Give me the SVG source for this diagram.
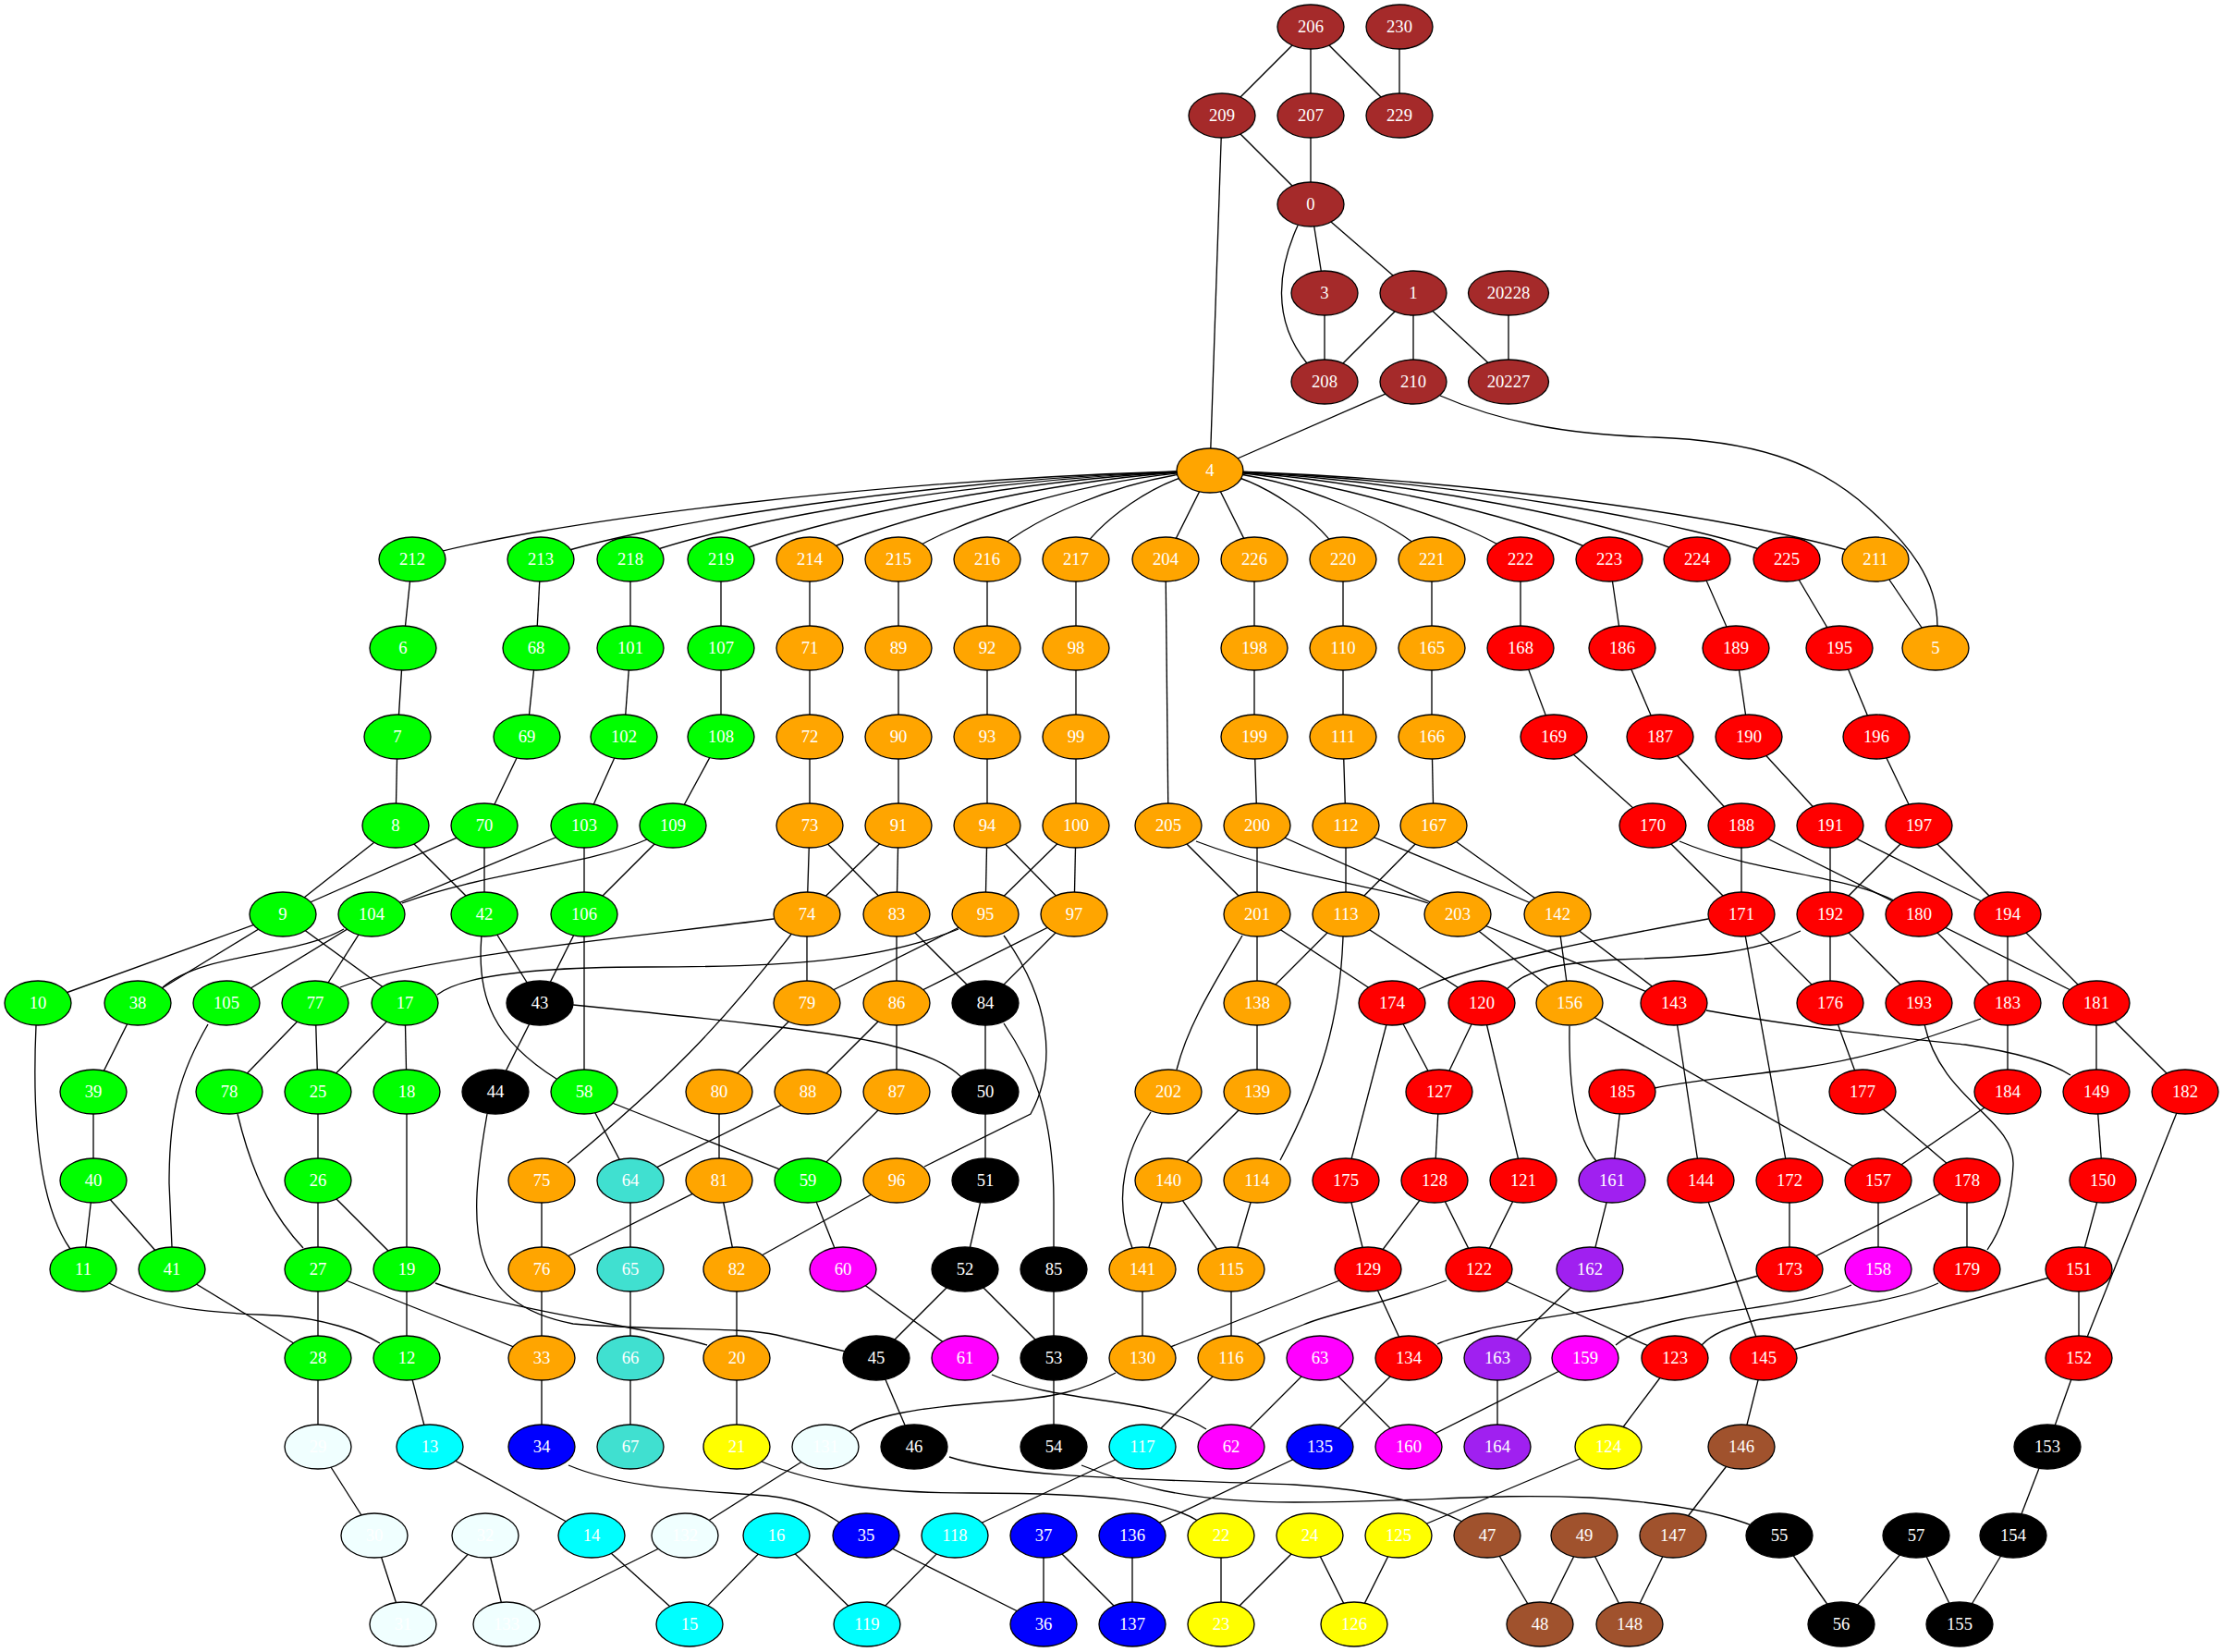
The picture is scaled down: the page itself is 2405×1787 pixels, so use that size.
<svg xmlns="http://www.w3.org/2000/svg" width="2405" height="1787" viewBox="0 0 2405 1787">
<style>
ellipse{stroke:#000;stroke-width:1.33}
text{font-family:"Liberation Serif","Times New Roman",serif;font-size:18.67px;fill:#fff;text-anchor:middle}
#edges path{stroke:#000;stroke-width:1.33;fill:none}
.br{fill:#a52a2a}.or{fill:#ffa500}.gr{fill:#00ff00}.rd{fill:#ff0000}.bk{fill:#000}.cy{fill:#00ffff}.bl{fill:#0000ff}.ye{fill:#ffff00}.mg{fill:#ff00ff}.pu{fill:#a020f0}.tq{fill:#40e0d0}.si{fill:#a0522d}.az{fill:#f0ffff}
</style>
<rect width="2405" height="1787" fill="#fff"/>
<g id="edges">
<path d="M1418,29 L1322,125"/><path d="M1418,29 L1418,125"/><path d="M1418,29 L1514,125"/><path d="M1514,29 L1514,125"/>
<path d="M1322,125 L1418,221"/><path d="M1418,125 L1418,221"/><path d="M1418,221 L1433,317"/><path d="M1418,221 L1529,317"/>
<path d="M1404,244 C1383,290 1375,345 1414,393"/>
<path d="M1433,317 L1433,413"/><path d="M1529,317 L1433,413"/><path d="M1529,317 L1529,413"/><path d="M1529,317 L1632,413"/><path d="M1632,317 L1632,413"/>
<path d="M1529,413 L1309,509"/><path d="M1322,125 L1309,509"/>
<path d="M1558,428 C1620,455 1690,470 1790,473 C1900,477 1960,500 2010,540 C2070,590 2096,630 2096,677"/>
<path d="M1309,509 C964,517 576,565 446,605"/>
<path d="M1309,509 C1019,517 694,565 585,605"/>
<path d="M1309,509 C1058,517 776,565 682,605"/>
<path d="M1309,509 C1097,517 859,565 780,605"/>
<path d="M1309,509 C1136,517 941,565 876,605"/>
<path d="M1309,509 C1174,517 1023,565 972,605"/>
<path d="M1309,509 C1213,517 1104,565 1068,605"/>
<path d="M1309,509 C1251,517 1186,565 1164,605"/>
<path d="M1309,509 L1261,605"/><path d="M1309,509 L1357,605"/>
<path d="M1309,509 C1367,517 1431,565 1453,605"/>
<path d="M1309,509 C1405,517 1513,565 1549,605"/>
<path d="M1309,509 C1443,517 1595,565 1645,605"/>
<path d="M1309,509 C1482,517 1676,565 1741,605"/>
<path d="M1309,509 C1520,517 1757,565 1836,605"/>
<path d="M1309,509 C1559,517 1839,565 1933,605"/>
<path d="M1309,509 C1597,517 1921,565 2029,605"/>
<path d="M446,605 L436,701"/><path d="M436,701 L430,797"/><path d="M430,797 L428,893"/><path d="M428,893 L306,989"/><path d="M428,893 L524,989"/>
<path d="M585,605 L580,701"/><path d="M580,701 L570,797"/><path d="M570,797 L524,893"/><path d="M524,893 L306,989"/><path d="M524,893 L524,989"/>
<path d="M682,605 L682,701"/><path d="M682,701 L675,797"/><path d="M675,797 L632,893"/><path d="M632,893 L402,989"/><path d="M632,893 L632,989"/>
<path d="M780,605 L780,701"/><path d="M780,701 L780,797"/><path d="M780,797 L728,893"/>
<path d="M700,908 C640,935 520,945 435,977"/><path d="M728,893 L632,989"/>
<path d="M876,605 L876,893"/><path d="M876,893 L873,989"/><path d="M876,893 L970,989"/>
<path d="M972,605 L972,893"/><path d="M972,893 L873,989"/><path d="M972,893 L970,989"/>
<path d="M1068,605 L1068,893"/><path d="M1068,893 L1066,989"/><path d="M1068,893 L1162,989"/>
<path d="M1164,605 L1164,893"/><path d="M1164,893 L1066,989"/><path d="M1164,893 L1162,989"/>
<path d="M1261,605 L1264,893"/><path d="M1264,893 L1360,989"/><path d="M1294,910 C1400,950 1500,960 1545,977"/>
<path d="M1357,605 L1357,797"/><path d="M1357,797 L1360,893"/><path d="M1360,893 L1360,989"/><path d="M1360,893 L1577,989"/>
<path d="M1453,605 L1453,797"/><path d="M1453,797 L1456,893"/><path d="M1456,893 L1456,989"/><path d="M1456,893 L1685,989"/>
<path d="M1549,605 L1549,797"/><path d="M1549,797 L1551,893"/><path d="M1551,893 L1456,989"/><path d="M1551,893 L1685,989"/>
<path d="M1645,605 L1645,701"/><path d="M1645,701 L1681,797"/><path d="M1681,797 L1788,893"/>
<path d="M1741,605 L1755,701"/><path d="M1755,701 L1796,797"/><path d="M1796,797 L1884,893"/>
<path d="M1836,605 L1878,701"/><path d="M1878,701 L1892,797"/><path d="M1892,797 L1980,893"/>
<path d="M1933,605 L1990,701"/><path d="M1990,701 L2030,797"/><path d="M2030,797 L2076,893"/>
<path d="M2029,605 L2094,701"/>
<path d="M1788,893 L1884,989"/><path d="M1817,910 C1900,945 1990,945 2049,974"/>
<path d="M1884,893 L1884,989"/><path d="M1884,893 L2076,989"/>
<path d="M1980,893 L1980,989"/><path d="M1980,893 L2172,989"/>
<path d="M2076,893 L1980,989"/><path d="M2076,893 L2172,989"/>
<path d="M306,989 L41,1085"/><path d="M306,989 L149,1085"/><path d="M306,989 L438,1085"/>
<path d="M372,1005 C320,1035 220,1030 176,1068"/>
<path d="M402,989 L245,1085"/><path d="M402,989 L341,1085"/>
<path d="M524,989 L584,1085"/><path d="M521,1012 C515,1080 535,1125 602,1167"/>
<path d="M632,989 L584,1085"/><path d="M632,989 L632,1181"/>
<path d="M837,994 C700,1012 450,1035 368,1068"/>
<path d="M1037,1005 C950,1040 850,1046 700,1046 C580,1046 500,1055 473,1076"/>
<path d="M873,989 L873,1085"/><path d="M858,1008 C780,1110 720,1170 614,1258"/>
<path d="M970,989 L970,1085"/><path d="M970,989 L1066,1085"/>
<path d="M1066,989 L873,1085"/><path d="M1086,1012 C1135,1080 1145,1150 1115,1205 L1000,1262"/>
<path d="M1162,989 L970,1085"/><path d="M1162,989 L1066,1085"/>
<path d="M1360,989 L1360,1085"/><path d="M1360,989 L1506,1085"/><path d="M1344,1012 C1310,1070 1285,1110 1273,1157"/>
<path d="M1456,989 L1360,1085"/><path d="M1456,989 L1603,1085"/><path d="M1453,1013 C1450,1100 1430,1170 1385,1255"/>
<path d="M1577,989 L1698,1085"/><path d="M1577,989 L1811,1085"/><path d="M1685,989 L1698,1085"/><path d="M1685,989 L1811,1085"/>
<path d="M1848,994 C1750,1012 1600,1040 1535,1070"/>
<path d="M1884,989 L1980,1085"/><path d="M1884,989 L1936,1277"/>
<path d="M1948,1007 C1900,1030 1850,1035 1750,1038 C1680,1042 1650,1050 1630,1070"/>
<path d="M1980,989 L1980,1085"/><path d="M1980,989 L2076,1085"/>
<path d="M2076,989 L2172,1085"/><path d="M2076,989 L2268,1085"/><path d="M2172,989 L2172,1085"/><path d="M2172,989 L2268,1085"/>
<path d="M39,1109 C35,1200 40,1300 76,1351"/>
<path d="M149,1085 L101,1181"/>
<path d="M225,1108 C195,1160 183,1200 183,1280 L186,1349"/>
<path d="M341,1085 L248,1181"/><path d="M341,1085 L344,1181"/><path d="M438,1085 L344,1181"/><path d="M438,1085 L440,1181"/>
<path d="M584,1085 L536,1181"/>
<path d="M620,1087 C750,1100 900,1115 960,1130 C1000,1140 1025,1150 1040,1165"/>
<path d="M873,1085 L778,1181"/><path d="M970,1085 L874,1181"/><path d="M970,1085 L970,1181"/>
<path d="M1066,1085 L1066,1181"/><path d="M1086,1107 C1115,1150 1140,1200 1140,1300 L1140,1349"/>
<path d="M1360,1085 L1360,1181"/>
<path d="M1506,1085 L1557,1181"/><path d="M1506,1085 L1456,1277"/>
<path d="M1603,1085 L1557,1181"/><path d="M1603,1085 L1648,1277"/>
<path d="M1698,1110 C1697,1180 1705,1230 1727,1256"/><path d="M1698,1085 L2032,1277"/>
<path d="M1811,1085 L1840,1277"/>
<path d="M1846,1093 C1950,1112 2050,1122 2126,1130 C2180,1138 2220,1150 2240,1163"/>
<path d="M1980,1085 L2015,1181"/>
<path d="M2082,1108 C2100,1190 2180,1210 2178,1260 C2176,1300 2165,1330 2150,1352"/>
<path d="M2143,1102 C2080,1125 2020,1145 1950,1155 C1870,1166 1820,1170 1790,1177"/>
<path d="M2172,1085 L2172,1181"/><path d="M2268,1085 L2268,1181"/><path d="M2268,1085 L2364,1181"/>
<path d="M101,1181 L101,1277"/>
<path d="M257,1205 C275,1280 300,1320 328,1350"/>
<path d="M344,1181 L344,1277"/><path d="M440,1181 L440,1373"/>
<path d="M527,1205 C505,1330 505,1410 620,1432 C720,1440 800,1435 840,1444 L915,1462"/>
<path d="M632,1181 L682,1277"/><path d="M632,1181 L874,1277"/>
<path d="M778,1181 L778,1277"/><path d="M874,1181 L682,1277"/><path d="M970,1181 L874,1277"/><path d="M1066,1181 L1066,1277"/>
<path d="M1245,1203 C1215,1250 1205,1300 1225,1350"/>
<path d="M1360,1181 L1264,1277"/>
<path d="M1557,1181 L1552,1277"/><path d="M1755,1181 L1744,1277"/>
<path d="M2015,1181 L2128,1277"/><path d="M2172,1181 L2032,1277"/><path d="M2268,1181 L2275,1277"/><path d="M2364,1181 L2249,1469"/>
<path d="M101,1277 L90,1373"/><path d="M101,1277 L186,1373"/>
<path d="M344,1277 L344,1373"/><path d="M344,1277 L440,1373"/>
<path d="M586,1277 L586,1373"/><path d="M682,1277 L682,1373"/>
<path d="M778,1277 L586,1373"/><path d="M778,1277 L797,1373"/>
<path d="M874,1277 L912,1373"/><path d="M970,1277 L797,1373"/><path d="M1066,1277 L1044,1373"/>
<path d="M1264,1277 L1236,1373"/><path d="M1264,1277 L1332,1373"/><path d="M1360,1277 L1332,1373"/>
<path d="M1456,1277 L1480,1373"/><path d="M1552,1277 L1480,1373"/><path d="M1552,1277 L1600,1373"/><path d="M1648,1277 L1600,1373"/>
<path d="M1744,1277 L1720,1373"/><path d="M1840,1277 L1908,1469"/>
<path d="M1936,1277 L1936,1373"/><path d="M2032,1277 L2032,1373"/>
<path d="M2128,1277 L1936,1373"/><path d="M2128,1277 L2128,1373"/><path d="M2275,1277 L2249,1373"/>
<path d="M118,1388 C180,1420 240,1420 300,1423 C350,1426 390,1440 411,1453"/>
<path d="M186,1373 L344,1469"/><path d="M344,1373 L344,1469"/><path d="M344,1373 L586,1469"/>
<path d="M440,1373 L440,1469"/>
<path d="M471,1388 C560,1420 700,1435 765,1455"/>
<path d="M586,1373 L586,1469"/><path d="M682,1373 L682,1469"/><path d="M797,1373 L797,1469"/>
<path d="M912,1373 L1044,1469"/><path d="M1044,1373 L948,1469"/><path d="M1044,1373 L1140,1469"/><path d="M1140,1373 L1140,1469"/>
<path d="M1236,1373 L1236,1469"/><path d="M1332,1373 L1332,1469"/>
<path d="M1480,1373 L1236,1469"/><path d="M1480,1373 L1524,1469"/>
<path d="M1565,1385 C1500,1410 1440,1420 1410,1433 C1380,1445 1365,1450 1358,1455"/>
<path d="M1600,1373 L1812,1469"/><path d="M1720,1373 L1620,1469"/>
<path d="M1902,1380 C1800,1410 1650,1425 1600,1440 C1575,1447 1562,1450 1555,1454"/>
<path d="M2003,1390 C1960,1410 1880,1415 1820,1427 C1780,1435 1760,1445 1748,1455"/>
<path d="M2097,1388 C2050,1410 1960,1418 1900,1428 C1870,1435 1850,1445 1841,1455"/>
<path d="M2249,1373 L2249,1469"/><path d="M2249,1373 L1908,1469"/>
<path d="M344,1469 L344,1565"/><path d="M440,1469 L465,1565"/><path d="M586,1469 L586,1565"/><path d="M682,1469 L682,1565"/>
<path d="M797,1469 L797,1565"/><path d="M948,1469 L989,1565"/>
<path d="M1073,1487 C1150,1520 1250,1510 1305,1546"/>
<path d="M1140,1469 L1140,1565"/>
<path d="M1207,1485 C1170,1505 1140,1512 1080,1516 C1000,1522 940,1530 915,1552"/>
<path d="M1332,1469 L1236,1565"/><path d="M1428,1469 L1332,1565"/><path d="M1428,1469 L1524,1565"/>
<path d="M1524,1469 L1428,1565"/><path d="M1620,1469 L1620,1565"/><path d="M1715,1469 L1524,1565"/>
<path d="M1812,1469 L1740,1565"/><path d="M1908,1469 L1884,1565"/><path d="M2249,1469 L2215,1565"/>
<path d="M344,1565 L405,1661"/><path d="M465,1565 L640,1661"/>
<path d="M615,1585 C680,1612 760,1612 830,1618 C870,1622 890,1635 910,1648"/>
<path d="M824,1581 C880,1605 950,1615 1050,1615 C1200,1615 1270,1625 1300,1648"/>
<path d="M893,1565 L741,1661"/>
<path d="M1027,1576 C1100,1600 1250,1600 1400,1606 C1500,1612 1550,1630 1582,1646"/>
<path d="M1170,1585 C1220,1605 1280,1625 1400,1625 C1550,1625 1600,1615 1720,1620 C1800,1625 1860,1635 1900,1652"/>
<path d="M1236,1565 L1033,1661"/><path d="M1428,1565 L1225,1661"/><path d="M1740,1565 L1513,1661"/>
<path d="M1884,1565 L1810,1661"/><path d="M2215,1565 L2178,1661"/>
<path d="M405,1661 L436,1757"/><path d="M525,1661 L436,1757"/><path d="M525,1661 L548,1757"/><path d="M741,1661 L548,1757"/>
<path d="M640,1661 L746,1757"/><path d="M840,1661 L746,1757"/><path d="M840,1661 L938,1757"/>
<path d="M937,1661 L1129,1757"/><path d="M1033,1661 L938,1757"/>
<path d="M1129,1661 L1129,1757"/><path d="M1129,1661 L1225,1757"/><path d="M1225,1661 L1225,1757"/>
<path d="M1321,1661 L1321,1757"/><path d="M1417,1661 L1321,1757"/><path d="M1417,1661 L1465,1757"/><path d="M1513,1661 L1465,1757"/>
<path d="M1609,1661 L1666,1757"/><path d="M1714,1661 L1666,1757"/><path d="M1714,1661 L1763,1757"/><path d="M1810,1661 L1763,1757"/>
<path d="M1925,1661 L1992,1757"/><path d="M2073,1661 L1992,1757"/><path d="M2073,1661 L2120,1757"/><path d="M2178,1661 L2120,1757"/>
</g>
<g id="nodes">
<g id="n206"><ellipse class="br" cx="1418" cy="29" rx="36" ry="24"/><text x="1418" y="35">206</text></g>
<g id="n230"><ellipse class="br" cx="1514" cy="29" rx="36" ry="24"/><text x="1514" y="35">230</text></g>
<g id="n209"><ellipse class="br" cx="1322" cy="125" rx="36" ry="24"/><text x="1322" y="131">209</text></g>
<g id="n207"><ellipse class="br" cx="1418" cy="125" rx="36" ry="24"/><text x="1418" y="131">207</text></g>
<g id="n229"><ellipse class="br" cx="1514" cy="125" rx="36" ry="24"/><text x="1514" y="131">229</text></g>
<g id="n0"><ellipse class="br" cx="1418" cy="221" rx="36" ry="24"/><text x="1418" y="227">0</text></g>
<g id="n3"><ellipse class="br" cx="1433" cy="317" rx="36" ry="24"/><text x="1433" y="323">3</text></g>
<g id="n1"><ellipse class="br" cx="1529" cy="317" rx="36" ry="24"/><text x="1529" y="323">1</text></g>
<g id="n20228"><ellipse class="br" cx="1632" cy="317" rx="43.5" ry="24"/><text x="1632" y="323">20228</text></g>
<g id="n208"><ellipse class="br" cx="1433" cy="413" rx="36" ry="24"/><text x="1433" y="419">208</text></g>
<g id="n210"><ellipse class="br" cx="1529" cy="413" rx="36" ry="24"/><text x="1529" y="419">210</text></g>
<g id="n20227"><ellipse class="br" cx="1632" cy="413" rx="43.5" ry="24"/><text x="1632" y="419">20227</text></g>
<g id="n4"><ellipse class="or" cx="1309" cy="509" rx="36" ry="24"/><text x="1309" y="515">4</text></g>
<g id="n212"><ellipse class="gr" cx="446" cy="605" rx="36" ry="24"/><text x="446" y="611">212</text></g>
<g id="n213"><ellipse class="gr" cx="585" cy="605" rx="36" ry="24"/><text x="585" y="611">213</text></g>
<g id="n218"><ellipse class="gr" cx="682" cy="605" rx="36" ry="24"/><text x="682" y="611">218</text></g>
<g id="n219"><ellipse class="gr" cx="780" cy="605" rx="36" ry="24"/><text x="780" y="611">219</text></g>
<g id="n214"><ellipse class="or" cx="876" cy="605" rx="36" ry="24"/><text x="876" y="611">214</text></g>
<g id="n215"><ellipse class="or" cx="972" cy="605" rx="36" ry="24"/><text x="972" y="611">215</text></g>
<g id="n216"><ellipse class="or" cx="1068" cy="605" rx="36" ry="24"/><text x="1068" y="611">216</text></g>
<g id="n217"><ellipse class="or" cx="1164" cy="605" rx="36" ry="24"/><text x="1164" y="611">217</text></g>
<g id="n204"><ellipse class="or" cx="1261" cy="605" rx="36" ry="24"/><text x="1261" y="611">204</text></g>
<g id="n226"><ellipse class="or" cx="1357" cy="605" rx="36" ry="24"/><text x="1357" y="611">226</text></g>
<g id="n220"><ellipse class="or" cx="1453" cy="605" rx="36" ry="24"/><text x="1453" y="611">220</text></g>
<g id="n221"><ellipse class="or" cx="1549" cy="605" rx="36" ry="24"/><text x="1549" y="611">221</text></g>
<g id="n222"><ellipse class="rd" cx="1645" cy="605" rx="36" ry="24"/><text x="1645" y="611">222</text></g>
<g id="n223"><ellipse class="rd" cx="1741" cy="605" rx="36" ry="24"/><text x="1741" y="611">223</text></g>
<g id="n224"><ellipse class="rd" cx="1836" cy="605" rx="36" ry="24"/><text x="1836" y="611">224</text></g>
<g id="n225"><ellipse class="rd" cx="1933" cy="605" rx="36" ry="24"/><text x="1933" y="611">225</text></g>
<g id="n211"><ellipse class="or" cx="2029" cy="605" rx="36" ry="24"/><text x="2029" y="611">211</text></g>
<g id="n6"><ellipse class="gr" cx="436" cy="701" rx="36" ry="24"/><text x="436" y="707">6</text></g>
<g id="n68"><ellipse class="gr" cx="580" cy="701" rx="36" ry="24"/><text x="580" y="707">68</text></g>
<g id="n101"><ellipse class="gr" cx="682" cy="701" rx="36" ry="24"/><text x="682" y="707">101</text></g>
<g id="n107"><ellipse class="gr" cx="780" cy="701" rx="36" ry="24"/><text x="780" y="707">107</text></g>
<g id="n71"><ellipse class="or" cx="876" cy="701" rx="36" ry="24"/><text x="876" y="707">71</text></g>
<g id="n89"><ellipse class="or" cx="972" cy="701" rx="36" ry="24"/><text x="972" y="707">89</text></g>
<g id="n92"><ellipse class="or" cx="1068" cy="701" rx="36" ry="24"/><text x="1068" y="707">92</text></g>
<g id="n98"><ellipse class="or" cx="1164" cy="701" rx="36" ry="24"/><text x="1164" y="707">98</text></g>
<g id="n198"><ellipse class="or" cx="1357" cy="701" rx="36" ry="24"/><text x="1357" y="707">198</text></g>
<g id="n110"><ellipse class="or" cx="1453" cy="701" rx="36" ry="24"/><text x="1453" y="707">110</text></g>
<g id="n165"><ellipse class="or" cx="1549" cy="701" rx="36" ry="24"/><text x="1549" y="707">165</text></g>
<g id="n168"><ellipse class="rd" cx="1645" cy="701" rx="36" ry="24"/><text x="1645" y="707">168</text></g>
<g id="n186"><ellipse class="rd" cx="1755" cy="701" rx="36" ry="24"/><text x="1755" y="707">186</text></g>
<g id="n189"><ellipse class="rd" cx="1878" cy="701" rx="36" ry="24"/><text x="1878" y="707">189</text></g>
<g id="n195"><ellipse class="rd" cx="1990" cy="701" rx="36" ry="24"/><text x="1990" y="707">195</text></g>
<g id="n5"><ellipse class="or" cx="2094" cy="701" rx="36" ry="24"/><text x="2094" y="707">5</text></g>
<g id="n7"><ellipse class="gr" cx="430" cy="797" rx="36" ry="24"/><text x="430" y="803">7</text></g>
<g id="n69"><ellipse class="gr" cx="570" cy="797" rx="36" ry="24"/><text x="570" y="803">69</text></g>
<g id="n102"><ellipse class="gr" cx="675" cy="797" rx="36" ry="24"/><text x="675" y="803">102</text></g>
<g id="n108"><ellipse class="gr" cx="780" cy="797" rx="36" ry="24"/><text x="780" y="803">108</text></g>
<g id="n72"><ellipse class="or" cx="876" cy="797" rx="36" ry="24"/><text x="876" y="803">72</text></g>
<g id="n90"><ellipse class="or" cx="972" cy="797" rx="36" ry="24"/><text x="972" y="803">90</text></g>
<g id="n93"><ellipse class="or" cx="1068" cy="797" rx="36" ry="24"/><text x="1068" y="803">93</text></g>
<g id="n99"><ellipse class="or" cx="1164" cy="797" rx="36" ry="24"/><text x="1164" y="803">99</text></g>
<g id="n199"><ellipse class="or" cx="1357" cy="797" rx="36" ry="24"/><text x="1357" y="803">199</text></g>
<g id="n111"><ellipse class="or" cx="1453" cy="797" rx="36" ry="24"/><text x="1453" y="803">111</text></g>
<g id="n166"><ellipse class="or" cx="1549" cy="797" rx="36" ry="24"/><text x="1549" y="803">166</text></g>
<g id="n169"><ellipse class="rd" cx="1681" cy="797" rx="36" ry="24"/><text x="1681" y="803">169</text></g>
<g id="n187"><ellipse class="rd" cx="1796" cy="797" rx="36" ry="24"/><text x="1796" y="803">187</text></g>
<g id="n190"><ellipse class="rd" cx="1892" cy="797" rx="36" ry="24"/><text x="1892" y="803">190</text></g>
<g id="n196"><ellipse class="rd" cx="2030" cy="797" rx="36" ry="24"/><text x="2030" y="803">196</text></g>
<g id="n8"><ellipse class="gr" cx="428" cy="893" rx="36" ry="24"/><text x="428" y="899">8</text></g>
<g id="n70"><ellipse class="gr" cx="524" cy="893" rx="36" ry="24"/><text x="524" y="899">70</text></g>
<g id="n103"><ellipse class="gr" cx="632" cy="893" rx="36" ry="24"/><text x="632" y="899">103</text></g>
<g id="n109"><ellipse class="gr" cx="728" cy="893" rx="36" ry="24"/><text x="728" y="899">109</text></g>
<g id="n73"><ellipse class="or" cx="876" cy="893" rx="36" ry="24"/><text x="876" y="899">73</text></g>
<g id="n91"><ellipse class="or" cx="972" cy="893" rx="36" ry="24"/><text x="972" y="899">91</text></g>
<g id="n94"><ellipse class="or" cx="1068" cy="893" rx="36" ry="24"/><text x="1068" y="899">94</text></g>
<g id="n100"><ellipse class="or" cx="1164" cy="893" rx="36" ry="24"/><text x="1164" y="899">100</text></g>
<g id="n205"><ellipse class="or" cx="1264" cy="893" rx="36" ry="24"/><text x="1264" y="899">205</text></g>
<g id="n200"><ellipse class="or" cx="1360" cy="893" rx="36" ry="24"/><text x="1360" y="899">200</text></g>
<g id="n112"><ellipse class="or" cx="1456" cy="893" rx="36" ry="24"/><text x="1456" y="899">112</text></g>
<g id="n167"><ellipse class="or" cx="1551" cy="893" rx="36" ry="24"/><text x="1551" y="899">167</text></g>
<g id="n170"><ellipse class="rd" cx="1788" cy="893" rx="36" ry="24"/><text x="1788" y="899">170</text></g>
<g id="n188"><ellipse class="rd" cx="1884" cy="893" rx="36" ry="24"/><text x="1884" y="899">188</text></g>
<g id="n191"><ellipse class="rd" cx="1980" cy="893" rx="36" ry="24"/><text x="1980" y="899">191</text></g>
<g id="n197"><ellipse class="rd" cx="2076" cy="893" rx="36" ry="24"/><text x="2076" y="899">197</text></g>
<g id="n9"><ellipse class="gr" cx="306" cy="989" rx="36" ry="24"/><text x="306" y="995">9</text></g>
<g id="n104"><ellipse class="gr" cx="402" cy="989" rx="36" ry="24"/><text x="402" y="995">104</text></g>
<g id="n42"><ellipse class="gr" cx="524" cy="989" rx="36" ry="24"/><text x="524" y="995">42</text></g>
<g id="n106"><ellipse class="gr" cx="632" cy="989" rx="36" ry="24"/><text x="632" y="995">106</text></g>
<g id="n74"><ellipse class="or" cx="873" cy="989" rx="36" ry="24"/><text x="873" y="995">74</text></g>
<g id="n83"><ellipse class="or" cx="970" cy="989" rx="36" ry="24"/><text x="970" y="995">83</text></g>
<g id="n95"><ellipse class="or" cx="1066" cy="989" rx="36" ry="24"/><text x="1066" y="995">95</text></g>
<g id="n97"><ellipse class="or" cx="1162" cy="989" rx="36" ry="24"/><text x="1162" y="995">97</text></g>
<g id="n201"><ellipse class="or" cx="1360" cy="989" rx="36" ry="24"/><text x="1360" y="995">201</text></g>
<g id="n113"><ellipse class="or" cx="1456" cy="989" rx="36" ry="24"/><text x="1456" y="995">113</text></g>
<g id="n203"><ellipse class="or" cx="1577" cy="989" rx="36" ry="24"/><text x="1577" y="995">203</text></g>
<g id="n142"><ellipse class="or" cx="1685" cy="989" rx="36" ry="24"/><text x="1685" y="995">142</text></g>
<g id="n171"><ellipse class="rd" cx="1884" cy="989" rx="36" ry="24"/><text x="1884" y="995">171</text></g>
<g id="n192"><ellipse class="rd" cx="1980" cy="989" rx="36" ry="24"/><text x="1980" y="995">192</text></g>
<g id="n180"><ellipse class="rd" cx="2076" cy="989" rx="36" ry="24"/><text x="2076" y="995">180</text></g>
<g id="n194"><ellipse class="rd" cx="2172" cy="989" rx="36" ry="24"/><text x="2172" y="995">194</text></g>
<g id="n10"><ellipse class="gr" cx="41" cy="1085" rx="36" ry="24"/><text x="41" y="1091">10</text></g>
<g id="n38"><ellipse class="gr" cx="149" cy="1085" rx="36" ry="24"/><text x="149" y="1091">38</text></g>
<g id="n105"><ellipse class="gr" cx="245" cy="1085" rx="36" ry="24"/><text x="245" y="1091">105</text></g>
<g id="n77"><ellipse class="gr" cx="341" cy="1085" rx="36" ry="24"/><text x="341" y="1091">77</text></g>
<g id="n17"><ellipse class="gr" cx="438" cy="1085" rx="36" ry="24"/><text x="438" y="1091">17</text></g>
<g id="n43"><ellipse class="bk" cx="584" cy="1085" rx="36" ry="24"/><text x="584" y="1091">43</text></g>
<g id="n79"><ellipse class="or" cx="873" cy="1085" rx="36" ry="24"/><text x="873" y="1091">79</text></g>
<g id="n86"><ellipse class="or" cx="970" cy="1085" rx="36" ry="24"/><text x="970" y="1091">86</text></g>
<g id="n84"><ellipse class="bk" cx="1066" cy="1085" rx="36" ry="24"/><text x="1066" y="1091">84</text></g>
<g id="n138"><ellipse class="or" cx="1360" cy="1085" rx="36" ry="24"/><text x="1360" y="1091">138</text></g>
<g id="n174"><ellipse class="rd" cx="1506" cy="1085" rx="36" ry="24"/><text x="1506" y="1091">174</text></g>
<g id="n120"><ellipse class="rd" cx="1603" cy="1085" rx="36" ry="24"/><text x="1603" y="1091">120</text></g>
<g id="n156"><ellipse class="or" cx="1698" cy="1085" rx="36" ry="24"/><text x="1698" y="1091">156</text></g>
<g id="n143"><ellipse class="rd" cx="1811" cy="1085" rx="36" ry="24"/><text x="1811" y="1091">143</text></g>
<g id="n176"><ellipse class="rd" cx="1980" cy="1085" rx="36" ry="24"/><text x="1980" y="1091">176</text></g>
<g id="n193"><ellipse class="rd" cx="2076" cy="1085" rx="36" ry="24"/><text x="2076" y="1091">193</text></g>
<g id="n183"><ellipse class="rd" cx="2172" cy="1085" rx="36" ry="24"/><text x="2172" y="1091">183</text></g>
<g id="n181"><ellipse class="rd" cx="2268" cy="1085" rx="36" ry="24"/><text x="2268" y="1091">181</text></g>
<g id="n39"><ellipse class="gr" cx="101" cy="1181" rx="36" ry="24"/><text x="101" y="1187">39</text></g>
<g id="n78"><ellipse class="gr" cx="248" cy="1181" rx="36" ry="24"/><text x="248" y="1187">78</text></g>
<g id="n25"><ellipse class="gr" cx="344" cy="1181" rx="36" ry="24"/><text x="344" y="1187">25</text></g>
<g id="n18"><ellipse class="gr" cx="440" cy="1181" rx="36" ry="24"/><text x="440" y="1187">18</text></g>
<g id="n44"><ellipse class="bk" cx="536" cy="1181" rx="36" ry="24"/><text x="536" y="1187">44</text></g>
<g id="n58"><ellipse class="gr" cx="632" cy="1181" rx="36" ry="24"/><text x="632" y="1187">58</text></g>
<g id="n80"><ellipse class="or" cx="778" cy="1181" rx="36" ry="24"/><text x="778" y="1187">80</text></g>
<g id="n88"><ellipse class="or" cx="874" cy="1181" rx="36" ry="24"/><text x="874" y="1187">88</text></g>
<g id="n87"><ellipse class="or" cx="970" cy="1181" rx="36" ry="24"/><text x="970" y="1187">87</text></g>
<g id="n50"><ellipse class="bk" cx="1066" cy="1181" rx="36" ry="24"/><text x="1066" y="1187">50</text></g>
<g id="n202"><ellipse class="or" cx="1264" cy="1181" rx="36" ry="24"/><text x="1264" y="1187">202</text></g>
<g id="n139"><ellipse class="or" cx="1360" cy="1181" rx="36" ry="24"/><text x="1360" y="1187">139</text></g>
<g id="n127"><ellipse class="rd" cx="1557" cy="1181" rx="36" ry="24"/><text x="1557" y="1187">127</text></g>
<g id="n185"><ellipse class="rd" cx="1755" cy="1181" rx="36" ry="24"/><text x="1755" y="1187">185</text></g>
<g id="n177"><ellipse class="rd" cx="2015" cy="1181" rx="36" ry="24"/><text x="2015" y="1187">177</text></g>
<g id="n184"><ellipse class="rd" cx="2172" cy="1181" rx="36" ry="24"/><text x="2172" y="1187">184</text></g>
<g id="n149"><ellipse class="rd" cx="2268" cy="1181" rx="36" ry="24"/><text x="2268" y="1187">149</text></g>
<g id="n182"><ellipse class="rd" cx="2364" cy="1181" rx="36" ry="24"/><text x="2364" y="1187">182</text></g>
<g id="n40"><ellipse class="gr" cx="101" cy="1277" rx="36" ry="24"/><text x="101" y="1283">40</text></g>
<g id="n26"><ellipse class="gr" cx="344" cy="1277" rx="36" ry="24"/><text x="344" y="1283">26</text></g>
<g id="n75"><ellipse class="or" cx="586" cy="1277" rx="36" ry="24"/><text x="586" y="1283">75</text></g>
<g id="n64"><ellipse class="tq" cx="682" cy="1277" rx="36" ry="24"/><text x="682" y="1283">64</text></g>
<g id="n81"><ellipse class="or" cx="778" cy="1277" rx="36" ry="24"/><text x="778" y="1283">81</text></g>
<g id="n59"><ellipse class="gr" cx="874" cy="1277" rx="36" ry="24"/><text x="874" y="1283">59</text></g>
<g id="n96"><ellipse class="or" cx="970" cy="1277" rx="36" ry="24"/><text x="970" y="1283">96</text></g>
<g id="n51"><ellipse class="bk" cx="1066" cy="1277" rx="36" ry="24"/><text x="1066" y="1283">51</text></g>
<g id="n140"><ellipse class="or" cx="1264" cy="1277" rx="36" ry="24"/><text x="1264" y="1283">140</text></g>
<g id="n114"><ellipse class="or" cx="1360" cy="1277" rx="36" ry="24"/><text x="1360" y="1283">114</text></g>
<g id="n175"><ellipse class="rd" cx="1456" cy="1277" rx="36" ry="24"/><text x="1456" y="1283">175</text></g>
<g id="n128"><ellipse class="rd" cx="1552" cy="1277" rx="36" ry="24"/><text x="1552" y="1283">128</text></g>
<g id="n121"><ellipse class="rd" cx="1648" cy="1277" rx="36" ry="24"/><text x="1648" y="1283">121</text></g>
<g id="n161"><ellipse class="pu" cx="1744" cy="1277" rx="36" ry="24"/><text x="1744" y="1283">161</text></g>
<g id="n144"><ellipse class="rd" cx="1840" cy="1277" rx="36" ry="24"/><text x="1840" y="1283">144</text></g>
<g id="n172"><ellipse class="rd" cx="1936" cy="1277" rx="36" ry="24"/><text x="1936" y="1283">172</text></g>
<g id="n157"><ellipse class="rd" cx="2032" cy="1277" rx="36" ry="24"/><text x="2032" y="1283">157</text></g>
<g id="n178"><ellipse class="rd" cx="2128" cy="1277" rx="36" ry="24"/><text x="2128" y="1283">178</text></g>
<g id="n150"><ellipse class="rd" cx="2275" cy="1277" rx="36" ry="24"/><text x="2275" y="1283">150</text></g>
<g id="n11"><ellipse class="gr" cx="90" cy="1373" rx="36" ry="24"/><text x="90" y="1379">11</text></g>
<g id="n41"><ellipse class="gr" cx="186" cy="1373" rx="36" ry="24"/><text x="186" y="1379">41</text></g>
<g id="n27"><ellipse class="gr" cx="344" cy="1373" rx="36" ry="24"/><text x="344" y="1379">27</text></g>
<g id="n19"><ellipse class="gr" cx="440" cy="1373" rx="36" ry="24"/><text x="440" y="1379">19</text></g>
<g id="n76"><ellipse class="or" cx="586" cy="1373" rx="36" ry="24"/><text x="586" y="1379">76</text></g>
<g id="n65"><ellipse class="tq" cx="682" cy="1373" rx="36" ry="24"/><text x="682" y="1379">65</text></g>
<g id="n82"><ellipse class="or" cx="797" cy="1373" rx="36" ry="24"/><text x="797" y="1379">82</text></g>
<g id="n60"><ellipse class="mg" cx="912" cy="1373" rx="36" ry="24"/><text x="912" y="1379">60</text></g>
<g id="n52"><ellipse class="bk" cx="1044" cy="1373" rx="36" ry="24"/><text x="1044" y="1379">52</text></g>
<g id="n85"><ellipse class="bk" cx="1140" cy="1373" rx="36" ry="24"/><text x="1140" y="1379">85</text></g>
<g id="n141"><ellipse class="or" cx="1236" cy="1373" rx="36" ry="24"/><text x="1236" y="1379">141</text></g>
<g id="n115"><ellipse class="or" cx="1332" cy="1373" rx="36" ry="24"/><text x="1332" y="1379">115</text></g>
<g id="n129"><ellipse class="rd" cx="1480" cy="1373" rx="36" ry="24"/><text x="1480" y="1379">129</text></g>
<g id="n122"><ellipse class="rd" cx="1600" cy="1373" rx="36" ry="24"/><text x="1600" y="1379">122</text></g>
<g id="n162"><ellipse class="pu" cx="1720" cy="1373" rx="36" ry="24"/><text x="1720" y="1379">162</text></g>
<g id="n173"><ellipse class="rd" cx="1936" cy="1373" rx="36" ry="24"/><text x="1936" y="1379">173</text></g>
<g id="n158"><ellipse class="mg" cx="2032" cy="1373" rx="36" ry="24"/><text x="2032" y="1379">158</text></g>
<g id="n179"><ellipse class="rd" cx="2128" cy="1373" rx="36" ry="24"/><text x="2128" y="1379">179</text></g>
<g id="n151"><ellipse class="rd" cx="2249" cy="1373" rx="36" ry="24"/><text x="2249" y="1379">151</text></g>
<g id="n28"><ellipse class="gr" cx="344" cy="1469" rx="36" ry="24"/><text x="344" y="1475">28</text></g>
<g id="n12"><ellipse class="gr" cx="440" cy="1469" rx="36" ry="24"/><text x="440" y="1475">12</text></g>
<g id="n33"><ellipse class="or" cx="586" cy="1469" rx="36" ry="24"/><text x="586" y="1475">33</text></g>
<g id="n66"><ellipse class="tq" cx="682" cy="1469" rx="36" ry="24"/><text x="682" y="1475">66</text></g>
<g id="n20"><ellipse class="or" cx="797" cy="1469" rx="36" ry="24"/><text x="797" y="1475">20</text></g>
<g id="n45"><ellipse class="bk" cx="948" cy="1469" rx="36" ry="24"/><text x="948" y="1475">45</text></g>
<g id="n61"><ellipse class="mg" cx="1044" cy="1469" rx="36" ry="24"/><text x="1044" y="1475">61</text></g>
<g id="n53"><ellipse class="bk" cx="1140" cy="1469" rx="36" ry="24"/><text x="1140" y="1475">53</text></g>
<g id="n130"><ellipse class="or" cx="1236" cy="1469" rx="36" ry="24"/><text x="1236" y="1475">130</text></g>
<g id="n116"><ellipse class="or" cx="1332" cy="1469" rx="36" ry="24"/><text x="1332" y="1475">116</text></g>
<g id="n63"><ellipse class="mg" cx="1428" cy="1469" rx="36" ry="24"/><text x="1428" y="1475">63</text></g>
<g id="n134"><ellipse class="rd" cx="1524" cy="1469" rx="36" ry="24"/><text x="1524" y="1475">134</text></g>
<g id="n163"><ellipse class="pu" cx="1620" cy="1469" rx="36" ry="24"/><text x="1620" y="1475">163</text></g>
<g id="n159"><ellipse class="mg" cx="1715" cy="1469" rx="36" ry="24"/><text x="1715" y="1475">159</text></g>
<g id="n123"><ellipse class="rd" cx="1812" cy="1469" rx="36" ry="24"/><text x="1812" y="1475">123</text></g>
<g id="n145"><ellipse class="rd" cx="1908" cy="1469" rx="36" ry="24"/><text x="1908" y="1475">145</text></g>
<g id="n152"><ellipse class="rd" cx="2249" cy="1469" rx="36" ry="24"/><text x="2249" y="1475">152</text></g>
<g id="n29"><ellipse class="az" cx="344" cy="1565" rx="36" ry="24"/><text x="344" y="1571">29</text></g>
<g id="n13"><ellipse class="cy" cx="465" cy="1565" rx="36" ry="24"/><text x="465" y="1571">13</text></g>
<g id="n34"><ellipse class="bl" cx="586" cy="1565" rx="36" ry="24"/><text x="586" y="1571">34</text></g>
<g id="n67"><ellipse class="tq" cx="682" cy="1565" rx="36" ry="24"/><text x="682" y="1571">67</text></g>
<g id="n21"><ellipse class="ye" cx="797" cy="1565" rx="36" ry="24"/><text x="797" y="1571">21</text></g>
<g id="n131"><ellipse class="az" cx="893" cy="1565" rx="36" ry="24"/><text x="893" y="1571">131</text></g>
<g id="n46"><ellipse class="bk" cx="989" cy="1565" rx="36" ry="24"/><text x="989" y="1571">46</text></g>
<g id="n54"><ellipse class="bk" cx="1140" cy="1565" rx="36" ry="24"/><text x="1140" y="1571">54</text></g>
<g id="n117"><ellipse class="cy" cx="1236" cy="1565" rx="36" ry="24"/><text x="1236" y="1571">117</text></g>
<g id="n62"><ellipse class="mg" cx="1332" cy="1565" rx="36" ry="24"/><text x="1332" y="1571">62</text></g>
<g id="n135"><ellipse class="bl" cx="1428" cy="1565" rx="36" ry="24"/><text x="1428" y="1571">135</text></g>
<g id="n160"><ellipse class="mg" cx="1524" cy="1565" rx="36" ry="24"/><text x="1524" y="1571">160</text></g>
<g id="n164"><ellipse class="pu" cx="1620" cy="1565" rx="36" ry="24"/><text x="1620" y="1571">164</text></g>
<g id="n124"><ellipse class="ye" cx="1740" cy="1565" rx="36" ry="24"/><text x="1740" y="1571">124</text></g>
<g id="n146"><ellipse class="si" cx="1884" cy="1565" rx="36" ry="24"/><text x="1884" y="1571">146</text></g>
<g id="n153"><ellipse class="bk" cx="2215" cy="1565" rx="36" ry="24"/><text x="2215" y="1571">153</text></g>
<g id="n30"><ellipse class="az" cx="405" cy="1661" rx="36" ry="24"/><text x="405" y="1667">30</text></g>
<g id="n32"><ellipse class="az" cx="525" cy="1661" rx="36" ry="24"/><text x="525" y="1667">32</text></g>
<g id="n14"><ellipse class="cy" cx="640" cy="1661" rx="36" ry="24"/><text x="640" y="1667">14</text></g>
<g id="n132"><ellipse class="az" cx="741" cy="1661" rx="36" ry="24"/><text x="741" y="1667">132</text></g>
<g id="n16"><ellipse class="cy" cx="840" cy="1661" rx="36" ry="24"/><text x="840" y="1667">16</text></g>
<g id="n35"><ellipse class="bl" cx="937" cy="1661" rx="36" ry="24"/><text x="937" y="1667">35</text></g>
<g id="n118"><ellipse class="cy" cx="1033" cy="1661" rx="36" ry="24"/><text x="1033" y="1667">118</text></g>
<g id="n37"><ellipse class="bl" cx="1129" cy="1661" rx="36" ry="24"/><text x="1129" y="1667">37</text></g>
<g id="n136"><ellipse class="bl" cx="1225" cy="1661" rx="36" ry="24"/><text x="1225" y="1667">136</text></g>
<g id="n22"><ellipse class="ye" cx="1321" cy="1661" rx="36" ry="24"/><text x="1321" y="1667">22</text></g>
<g id="n24"><ellipse class="ye" cx="1417" cy="1661" rx="36" ry="24"/><text x="1417" y="1667">24</text></g>
<g id="n125"><ellipse class="ye" cx="1513" cy="1661" rx="36" ry="24"/><text x="1513" y="1667">125</text></g>
<g id="n47"><ellipse class="si" cx="1609" cy="1661" rx="36" ry="24"/><text x="1609" y="1667">47</text></g>
<g id="n49"><ellipse class="si" cx="1714" cy="1661" rx="36" ry="24"/><text x="1714" y="1667">49</text></g>
<g id="n147"><ellipse class="si" cx="1810" cy="1661" rx="36" ry="24"/><text x="1810" y="1667">147</text></g>
<g id="n55"><ellipse class="bk" cx="1925" cy="1661" rx="36" ry="24"/><text x="1925" y="1667">55</text></g>
<g id="n57"><ellipse class="bk" cx="2073" cy="1661" rx="36" ry="24"/><text x="2073" y="1667">57</text></g>
<g id="n154"><ellipse class="bk" cx="2178" cy="1661" rx="36" ry="24"/><text x="2178" y="1667">154</text></g>
<g id="n31"><ellipse class="az" cx="436" cy="1757" rx="36" ry="24"/><text x="436" y="1763">31</text></g>
<g id="n133"><ellipse class="az" cx="548" cy="1757" rx="36" ry="24"/><text x="548" y="1763">133</text></g>
<g id="n15"><ellipse class="cy" cx="746" cy="1757" rx="36" ry="24"/><text x="746" y="1763">15</text></g>
<g id="n119"><ellipse class="cy" cx="938" cy="1757" rx="36" ry="24"/><text x="938" y="1763">119</text></g>
<g id="n36"><ellipse class="bl" cx="1129" cy="1757" rx="36" ry="24"/><text x="1129" y="1763">36</text></g>
<g id="n137"><ellipse class="bl" cx="1225" cy="1757" rx="36" ry="24"/><text x="1225" y="1763">137</text></g>
<g id="n23"><ellipse class="ye" cx="1321" cy="1757" rx="36" ry="24"/><text x="1321" y="1763">23</text></g>
<g id="n126"><ellipse class="ye" cx="1465" cy="1757" rx="36" ry="24"/><text x="1465" y="1763">126</text></g>
<g id="n48"><ellipse class="si" cx="1666" cy="1757" rx="36" ry="24"/><text x="1666" y="1763">48</text></g>
<g id="n148"><ellipse class="si" cx="1763" cy="1757" rx="36" ry="24"/><text x="1763" y="1763">148</text></g>
<g id="n56"><ellipse class="bk" cx="1992" cy="1757" rx="36" ry="24"/><text x="1992" y="1763">56</text></g>
<g id="n155"><ellipse class="bk" cx="2120" cy="1757" rx="36" ry="24"/><text x="2120" y="1763">155</text></g>
</g>
</svg>
